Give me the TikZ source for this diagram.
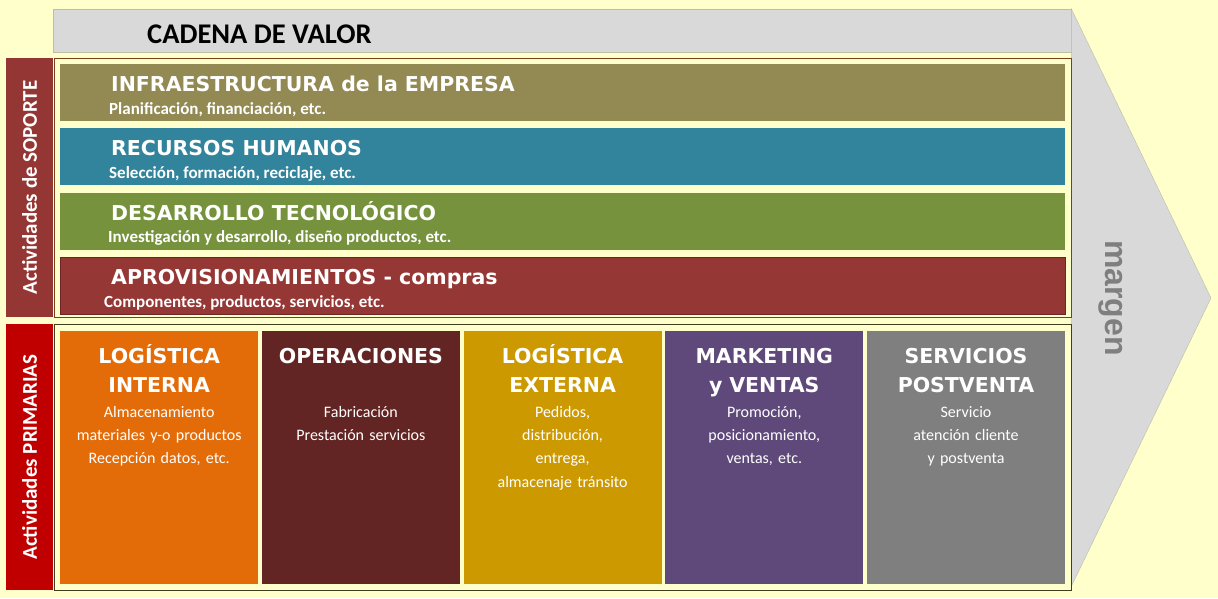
\documentclass[tikz,border=0pt]{standalone}
\usepackage{fontspec}
\setmainfont{Carlito}
\newfontfamily\headfont{DejaVu Sans}
\newfontfamily\marginfont{Liberation Sans}
\usetikzlibrary{positioning,calc}
\definecolor{bgyellow}{HTML}{FFFFCC}
\definecolor{arrowgray}{HTML}{D9D9D9}
\definecolor{arrowline}{HTML}{BDBDA8}
\definecolor{framebrown}{HTML}{7B3F1A}
\definecolor{framedark}{HTML}{3F3F1F}
\definecolor{soportered}{HTML}{943634}
\definecolor{primred}{HTML}{C00000}
\definecolor{infraolive}{HTML}{938953}
\definecolor{rrhhteal}{HTML}{31849B}
\definecolor{desagreen}{HTML}{76923C}
\definecolor{aprored}{HTML}{953735}
\definecolor{aproline}{HTML}{6E2424}
\definecolor{loginorange}{HTML}{E36C09}
\definecolor{opermaroon}{HTML}{632523}
\definecolor{logexgold}{HTML}{CC9900}
\definecolor{markpurple}{HTML}{5F497A}
\definecolor{servgray}{HTML}{7F7F7F}
\tikzset
{
    framebox/.style   = {rectangle, anchor=north west, fill=bgyellow, line width=1pt, inner sep=0pt, minimum width=1017.5pt},
    sidelabel/.style  = {rectangle, rotate=90, inner sep=0pt, minimum height=47pt, text=white, font=\bfseries\fontsize{21}{25}\selectfont},
    supportbar/.style = {rectangle, anchor=north west, inner sep=0pt, minimum width=1005pt, minimum height=57pt},
    primcol/.style    = {rectangle, anchor=north west, inner sep=0pt, minimum width=198pt, minimum height=253pt},
    bartitle/.style   = {anchor=base west, inner sep=0pt, text=white, font=\headfont\bfseries\fontsize{20.5}{24}\selectfont},
    barsub/.style     = {anchor=base west, inner sep=0pt, text=white, font=\bfseries\fontsize{17}{20}\selectfont},
    coltitle/.style   = {anchor=base, inner sep=0pt, text width=198pt, align=center, text=white, font=\headfont\bfseries\fontsize{20.5}{29.4}\selectfont},
    coltext/.style    = {anchor=base, inner sep=0pt, text width=198pt, align=center, text=white, font=\fontsize{16}{23.3}\selectfont}
}
\begin{document}
\begin{tikzpicture}[x=1pt, y=-1pt]
    \fill[bgyellow] (0,0) rectangle (1218,598);
    \useasboundingbox (0,0) rectangle (1218,598);
    % flecha de la cadena
    \node[rectangle, anchor=north west, fill=arrowgray, draw=arrowline, inner sep=0pt, minimum width=1018pt, minimum height=43pt] (cadena) at (53,9) {};
    \coordinate (tip) at (1211,298);
    \coordinate (foot) at (1071,587);
    \filldraw[fill=arrowgray, draw=arrowline] (cadena.north east) -- (tip) -- (foot) -- cycle;
    \node[anchor=base west, inner sep=0pt, font=\bfseries\fontsize{28.5}{30}\selectfont] (cadenaT) at (147,43.3) {CADENA DE VALOR};
    \node[rotate=-90, anchor=base, inner sep=0pt, text=servgray, font=\marginfont\bfseries\fontsize{32}{36}\selectfont] (margen) at (1105,298) {margen};
    % actividades de soporte
    \node[framebox, draw=framebrown, minimum height=259pt] (soporte) at (53.5,58) {};
    \node[sidelabel, fill=soportered, minimum width=259pt] (soporteL) at (29.5,187.5) {Actividades de SOPORTE};
    \node[supportbar, fill=infraolive] (infra) at (60,64) {};
    \node[supportbar, fill=rrhhteal, below=6.8pt of infra.south west, anchor=north west] (rrhh) {};
    \node[supportbar, fill=desagreen, below=6.8pt of rrhh.south west, anchor=north west] (desarrollo) {};
    \node[supportbar, fill=aprored, draw=aproline, below=6.8pt of desarrollo.south west, anchor=north west] (aprov) {};
    \node[bartitle] (infraT) at ($(infra.north west)+(51,27.7)$) {INFRAESTRUCTURA de la EMPRESA};
    \node[barsub] (infraS) at ($(infra.north west)+(49,50.5)$) {Planificación, financiación, etc.};
    \node[bartitle] (rrhhT) at ($(rrhh.north west)+(51,27.7)$) {RECURSOS HUMANOS};
    \node[barsub] (rrhhS) at ($(rrhh.north west)+(49,50.5)$) {Selección, formación, reciclaje, etc.};
    \node[bartitle] (desarrolloT) at ($(desarrollo.north west)+(51,27.7)$) {DESARROLLO TECNOLÓGICO};
    \node[barsub] (desarrolloS) at ($(desarrollo.north west)+(48,50.5)$) {Investigación y desarrollo, diseño productos, etc.};
    \node[bartitle] (aprovT) at ($(aprov.north west)+(51,27.7)$) {APROVISIONAMIENTOS - compras};
    \node[barsub] (aprovS) at ($(aprov.north west)+(44,50.5)$) {Componentes, productos, servicios, etc.};
    % actividades primarias
    \node[framebox, draw=framedark, minimum height=266pt] (primarias) at (53.5,324) {};
    \node[sidelabel, fill=primred, minimum width=266pt] (primariasL) at (29.5,457) {Actividades PRIMARIAS};
    \node[primcol, fill=loginorange] (logint) at (60,331) {};
    \node[primcol, fill=opermaroon, right=3.3pt of logint.north east, anchor=north west] (oper) {};
    \node[primcol, fill=logexgold, right=3.3pt of oper.north east, anchor=north west] (logext) {};
    \node[primcol, fill=markpurple, right=3.3pt of logext.north east, anchor=north west] (market) {};
    \node[primcol, fill=servgray, right=3.3pt of market.north east, anchor=north west] (postv) {};
    \node[coltitle] (logintT) at ($(logint.north)+(0,32.3)$) {LOGÍSTICA\\INTERNA};
    \node[coltext] (logintB) at ($(logint.north)+(0,86.3)$) {Almacenamiento\\materiales y-o productos\\Recepción datos, etc.};
    \node[coltitle] (operT) at ($(oper.north)+(0,32.3)$) {OPERACIONES};
    \node[coltext] (operB) at ($(oper.north)+(0,86.3)$) {Fabricación\\Prestación servicios};
    \node[coltitle] (logextT) at ($(logext.north)+(0,32.3)$) {LOGÍSTICA\\EXTERNA};
    \node[coltext] (logextB) at ($(logext.north)+(0,86.3)$) {Pedidos,\\distribución,\\entrega,\\almacenaje tránsito};
    \node[coltitle] (marketT) at ($(market.north)+(0,32.3)$) {MARKETING\\y VENTAS};
    \node[coltext] (marketB) at ($(market.north)+(0,86.3)$) {Promoción,\\posicionamiento,\\ventas, etc.};
    \node[coltitle] (postvT) at ($(postv.north)+(0,32.3)$) {SERVICIOS\\POSTVENTA};
    \node[coltext] (postvB) at ($(postv.north)+(0,86.3)$) {Servicio\\atención cliente\\y postventa};
\end{tikzpicture}
\end{document}
